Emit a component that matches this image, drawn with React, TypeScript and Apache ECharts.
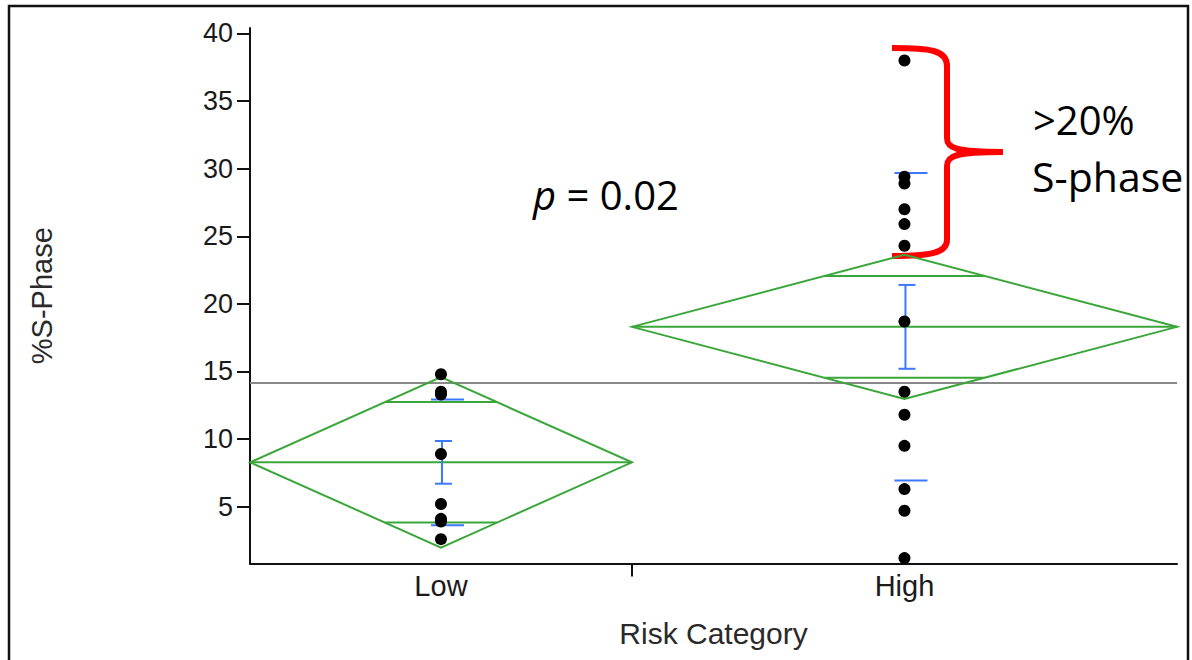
import React, { useEffect, useRef } from "react";
import * as echarts from "echarts";

// ---- data ----
const categories = ["Low", "High"];
// horizontal share of each group (JMP draws diamond width proportional to group size)
const groupShare = [0.412, 0.588];
const lowValues = [14.8, 13.5, 13.3, 8.9, 5.2, 4.1, 3.9, 2.6];
const highValues = [38.0, 29.4, 28.9, 27.0, 25.9, 24.3, 18.7, 13.5, 11.8, 9.5, 6.3, 4.7, 1.2];
const groupMeans = [8.28, 18.3];
const ciHalfWidths = [6.3, 5.33];
const stdErrors = [1.58, 3.1];
const stdDevs = [4.65, 11.37];
const grandMean = 14.15;
const yTicks = [5, 10, 15, 20, 25, 30, 35, 40];
const yMin = 0.8;
const yMax = 40.4;
const pText = "p";
const pValueText = " = 0.02";
const bracketLines = [">20%", "S-phase"];

const GREEN = "#3aa63a";
const BLUE = "#3c78ff";
const AXIS_FONT = "Liberation Sans";
const NOTE_FONT = "Open Sans";

const BRACKET_D =
  "M892,48 C930,48 947,50 947,66 L947,138 C947,148 955,152 1003,152 C955,152 947,156 947,166 L947,240 C947,253 930,256 892,256";

let registered = false;

export default function App() {
  const ref = useRef<HTMLDivElement>(null);

  useEffect(() => {
    if (!ref.current) return;
    if (!registered) {
      echarts.graphic.registerShape("bracket", echarts.graphic.extendPath(BRACKET_D, {}));
      registered = true;
    }
    const chart = echarts.init(ref.current, null, { renderer: "svg" });

    const lefts: number[] = [];
    let acc = 0;
    groupShare.forEach((s) => {
      lefts.push(acc);
      acc += s;
    });
    const rights = lefts.map((l, i) => l + groupShare[i]);
    const centers = lefts.map((l, i) => (l + rights[i]) / 2);
    const groupValues = [lowValues, highValues];

    const diamondData = categories.map((_, i) => [lefts[i], rights[i], groupMeans[i], ciHalfWidths[i]]);
    const errData = categories.map((_, i) => [centers[i], groupMeans[i], stdErrors[i], stdDevs[i]]);

    const option: any = {
      animation: false,
      grid: { left: 250, right: 15, top: 28, bottom: 96.5, containLabel: false, outerBoundsMode: "none" },
      xAxis: {
        type: "value",
        min: 0,
        max: 1,
        name: "Risk Category",
        nameLocation: "middle",
        nameGap: 55,
        nameTextStyle: { fontFamily: AXIS_FONT, fontSize: 30, color: "#2a2a2a" },
        axisLine: { show: true, onZero: false, lineStyle: { color: "#111", width: 2 } },
        axisTick: { show: true, length: 13, customValues: [rights[0]], lineStyle: { color: "#111", width: 2 } },
        axisLabel: {
          customValues: centers,
          margin: 8,
          fontFamily: AXIS_FONT,
          fontSize: 29,
          color: "#1a1a1a",
          formatter: (v: number) => (v < rights[0] ? categories[0] : categories[1]),
        },
        splitLine: { show: false },
      },
      yAxis: {
        type: "value",
        min: yMin,
        max: yMax,
        name: "%S-Phase",
        nameLocation: "middle",
        nameGap: 194,
        nameTextStyle: { fontFamily: AXIS_FONT, fontSize: 29, color: "#2a2a2a" },
        axisLine: { show: true, onZero: false, lineStyle: { color: "#111", width: 2 } },
        axisTick: { show: true, length: 13, customValues: yTicks, lineStyle: { color: "#111", width: 2 } },
        axisLabel: {
          customValues: yTicks,
          margin: 17,
          fontFamily: AXIS_FONT,
          fontSize: 27,
          color: "#1a1a1a",
        },
        splitLine: { show: false },
      },
      series: [
        {
          name: "Grand mean",
          type: "line",
          data: [
            [0, grandMean],
            [1, grandMean],
          ],
          symbol: "none",
          lineStyle: { color: "#888", width: 2 },
          z: 1,
        },
        {
          name: "Means diamonds",
          type: "custom",
          data: diamondData,
          encode: { x: [0, 1], y: 2 },
          z: 2,
          renderItem: (_p: any, api: any) => {
            const l = api.value(0);
            const r = api.value(1);
            const m = api.value(2);
            const h = api.value(3);
            const c = (l + r) / 2;
            const k = 1 / Math.SQRT2;
            const pL = api.coord([l, m]);
            const pR = api.coord([r, m]);
            const pT = api.coord([c, m + h]);
            const pB = api.coord([c, m - h]);
            const hw = ((r - l) / 2) * (1 - k);
            const a1 = api.coord([c - hw, m + h * k]);
            const a2 = api.coord([c + hw, m + h * k]);
            const b1 = api.coord([c - hw, m - h * k]);
            const b2 = api.coord([c + hw, m - h * k]);
            const st = { stroke: GREEN, lineWidth: 2, fill: "none" };
            return {
              type: "group",
              children: [
                { type: "polygon", shape: { points: [pL, pT, pR, pB] }, style: st },
                { type: "line", shape: { x1: pL[0], y1: pL[1], x2: pR[0], y2: pR[1] }, style: st },
                { type: "line", shape: { x1: a1[0], y1: a1[1], x2: a2[0], y2: a2[1] }, style: st },
                { type: "line", shape: { x1: b1[0], y1: b1[1], x2: b2[0], y2: b2[1] }, style: st },
              ],
            };
          },
        },
        {
          name: "Error bars",
          type: "custom",
          data: errData,
          encode: { x: 0, y: 1 },
          z: 3,
          renderItem: (_p: any, api: any) => {
            const c = api.value(0);
            const m = api.value(1);
            const se = api.value(2);
            const sd = api.value(3);
            const top = api.coord([c, m + se]);
            const bot = api.coord([c, m - se]);
            const sdT = api.coord([c, m + sd]);
            const sdB = api.coord([c, m - sd]);
            const x = top[0] + 1;
            const st = { stroke: BLUE, lineWidth: 2 };
            return {
              type: "group",
              children: [
                { type: "line", shape: { x1: x, y1: top[1], x2: x, y2: bot[1] }, style: st },
                { type: "line", shape: { x1: x - 7, y1: top[1], x2: x + 10, y2: top[1] }, style: st },
                { type: "line", shape: { x1: x - 7, y1: bot[1], x2: x + 10, y2: bot[1] }, style: st },
                { type: "line", shape: { x1: x - 11, y1: sdT[1], x2: x + 22, y2: sdT[1] }, style: st },
                { type: "line", shape: { x1: x - 11, y1: sdB[1], x2: x + 22, y2: sdB[1] }, style: st },
              ],
            };
          },
        },
        ...categories.map((cat, i) => ({
          name: cat,
          type: "scatter",
          data: groupValues[i].map((v) => [centers[i], v]),
          symbol: "circle",
          symbolSize: 12,
          itemStyle: { color: "#000", opacity: 1 },
          z: 4,
        })),
      ],
      graphic: [
        {
          type: "rect",
          shape: { x: 9, y: 6, width: 1179, height: 680 },
          style: { fill: "none", stroke: "#111", lineWidth: 2.5 },
          silent: true,
        },
        {
          type: "bracket",
          x: 0,
          y: 0,
          scaleX: 1,
          scaleY: 1,
          style: { fill: "none", stroke: "#ff0000", lineWidth: 6 },
          silent: true,
        },
        {
          type: "text",
          x: 533,
          y: 194,
          style: {
            text: "{i|" + pText + "}" + pValueText,
            fontFamily: NOTE_FONT,
            fontSize: 40,
            fill: "#000",
            verticalAlign: "middle",
            align: "left",
            rich: { i: { fontStyle: "italic", fontFamily: NOTE_FONT, fontSize: 40, fill: "#000" } },
          },
        },
        {
          type: "text",
          x: 1033,
          y: 119,
          style: {
            text: bracketLines[0],
            fontFamily: NOTE_FONT,
            fontSize: 40,
            fill: "#000",
            verticalAlign: "middle",
            align: "left",
          },
        },
        {
          type: "text",
          x: 1032,
          y: 176,
          style: {
            text: bracketLines[1],
            fontFamily: NOTE_FONT,
            fontSize: 41,
            fill: "#000",
            verticalAlign: "middle",
            align: "left",
          },
        },
      ],
    };

    chart.setOption(option);
    return () => chart.dispose();
  }, []);

  return (
    <div
      ref={ref}
      style={{ position: "fixed", left: 0, top: 0, width: 1192, height: 660, background: "#fff" }}
    />
  );
}
